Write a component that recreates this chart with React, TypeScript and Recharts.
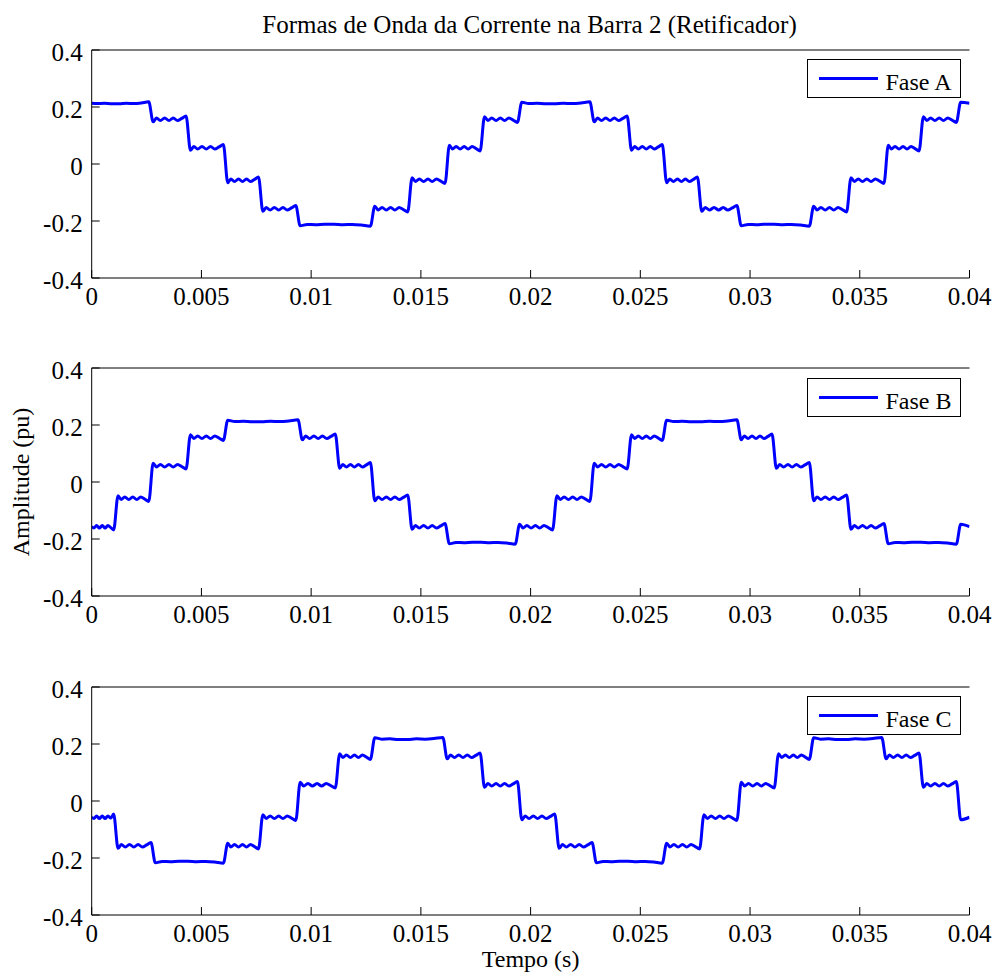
import { LineChart, Line, XAxis, YAxis, Legend } from "recharts";

// eixos
const tempoTicks = [0, 0.005, 0.01, 0.015, 0.02, 0.025, 0.03, 0.035, 0.04];
const amplitudeTicks = [-0.4, -0.2, 0, 0.2, 0.4];

// instantes das comutações (s) e níveis dos patamares (pu)
const faseATrocas = [
  0.0027, 0.0044, 0.0061, 0.0077, 0.0094, 0.0128, 0.0145, 0.0162, 0.0178, 0.0195,
  0.0228, 0.0245, 0.0261, 0.0277, 0.0295, 0.0328, 0.0345, 0.0362, 0.0378, 0.0395,
];
const faseANiveis = [
  0.213, 0.157, 0.057, -0.057, -0.157, -0.213, -0.157, -0.057, 0.057, 0.157, 0.213,
  0.157, 0.057, -0.057, -0.157, -0.213, -0.157, -0.057, 0.057, 0.157, 0.213,
];

const faseBTrocas = [
  0.0011, 0.0027, 0.0044, 0.0061, 0.0095, 0.0112, 0.0128, 0.0145, 0.0162, 0.0194,
  0.0211, 0.0228, 0.0245, 0.0261, 0.0295, 0.0311, 0.0328, 0.0345, 0.0362, 0.0395,
];
const faseBNiveis = [
  -0.157, -0.057, 0.057, 0.157, 0.213, 0.157, 0.057, -0.057, -0.157, -0.213, -0.157,
  -0.057, 0.057, 0.157, 0.213, 0.157, 0.057, -0.057, -0.157, -0.213, -0.157,
];

const faseCTrocas = [
  0.0011, 0.0028, 0.0061, 0.0077, 0.0094, 0.0112, 0.0128, 0.0161, 0.0178, 0.0195,
  0.0212, 0.0229, 0.0261, 0.0278, 0.0295, 0.0312, 0.0328, 0.0361, 0.0378, 0.0395,
];
const faseCNiveis = [
  -0.057, -0.157, -0.213, -0.157, -0.057, 0.057, 0.157, 0.218, 0.157, 0.057, -0.057,
  -0.157, -0.213, -0.157, -0.057, 0.057, 0.157, 0.218, 0.157, 0.057, -0.057,
];

// ripple dentro de um patamar (fração do patamar, desvio em pu)
const rippleFracao = [0, 0.1, 0.22, 0.35, 0.48, 0.61, 0.74, 0.87, 1];
const rippleCurto = [0.009, -0.0045, 0.0045, -0.0045, 0.0045, -0.0045, 0.0045, -0.003, 0.011];
const rippleLongo = [0.004, -0.001, 0, -0.002, -0.002, 0, -0.001, 0.001, 0.005];

const FONTE = '"Liberation Serif", "Times New Roman", serif';
const TRANSICAO = 0.0001;
const T_FIM = 0.04;
const AZUL = "#0000ff";

function montarSerie(trocas: number[], niveis: number[]) {
  const pontos: { t: number; v: number }[] = [];
  const ultimo = rippleFracao.length - 1;
  niveis.forEach((nivel, i) => {
    const t0 = i === 0 ? 0 : trocas[i - 1] + TRANSICAO;
    const t1 = i === niveis.length - 1 ? T_FIM : trocas[i] - TRANSICAO;
    const antes = i === 0 ? 0 : Math.sign(nivel - niveis[i - 1]);
    const depois = i === niveis.length - 1 ? 0 : Math.sign(niveis[i + 1] - nivel);
    const perfil = Math.abs(nivel) > 0.2 ? rippleLongo : rippleCurto;
    const curto = t1 - t0 < 0.0008;
    rippleFracao.forEach((f, k) => {
      if (curto && k !== 0 && k !== ultimo) return;
      let desvio = perfil[k] * (antes || 1);
      if (k === 0) desvio = perfil[0] * antes;
      if (k === ultimo) desvio = -perfil[ultimo] * depois;
      pontos.push({ t: t0 + f * (t1 - t0), v: nivel + desvio });
    });
  });
  return pontos;
}

const fases = [
  { nome: "Fase A", dados: montarSerie(faseATrocas, faseANiveis), topo: 49.5 },
  { nome: "Fase B", dados: montarSerie(faseBTrocas, faseBNiveis), topo: 368.3 },
  { nome: "Fase C", dados: montarSerie(faseCTrocas, faseCNiveis), topo: 686.7 },
];

const TickX = ({ x, y, payload }: any) => (
  <text x={x} y={y} dy={17.3} textAnchor="middle" fontFamily={FONTE} fontSize={25} fill="#000">
    {String(payload.value)}
  </text>
);

const TickY = ({ x, y, payload }: any) => (
  <text x={x} y={y} dy={10.5} textAnchor="end" fontFamily={FONTE} fontSize={25} fill="#000">
    {String(payload.value)}
  </text>
);

function CaixaLegenda({ nome }: { nome: string }) {
  return (
    <svg width={154} height={39} style={{ display: "block" }}>
      <rect x={0.5} y={0.5} width={153} height={38} fill="#fff" stroke="#000" />
      <line x1={12} x2={71} y1={19.5} y2={19.5} stroke={AZUL} strokeWidth={3} />
      <text x={78.5} y={31} fontFamily={FONTE} fontSize={24} fill="#000">
        {nome}
      </text>
    </svg>
  );
}

const titulo = () => (
  <text x={529.5} y={32.5} textAnchor="middle" fontFamily={FONTE} fontSize={25} fill="#000">
    Formas de Onda da Corrente na Barra 2 (Retificador)
  </text>
);

const rotuloY = () => (
  <text
    x={29}
    y={164}
    transform="rotate(-90, 29, 164)"
    textAnchor="middle"
    fontFamily={FONTE}
    fontSize={24}
    fill="#000"
  >
    Amplitude (pu)
  </text>
);

const rotuloX = () => (
  <text x={530.6} y={330.3} textAnchor="middle" fontFamily={FONTE} fontSize={24} fill="#000">
    Tempo (s)
  </text>
);

function Subplot({ nome, dados, topo, indice }: any) {
  return (
    <div style={{ position: "absolute", left: 0, top: topo - 50 }}>
      <LineChart
        width={996}
        height={340}
        data={dados}
        margin={{ top: 49, right: 26.5, bottom: 32, left: 31.7 }}
        style={{ fontFamily: FONTE }}
      >
        <XAxis
          xAxisId="base"
          dataKey="t"
          type="number"
          domain={[0, 0.04]}
          ticks={tempoTicks}
          interval={0}
          allowDataOverflow
          height={30}
          tickSize={-8}
          tickMargin={18}
          axisLine={{ stroke: "#000" }}
          tickLine={{ stroke: "#000" }}
          tick={TickX}
          label={indice === 2 ? { content: rotuloX } : undefined}
        />
        <XAxis
          xAxisId="topo"
          orientation="top"
          type="number"
          domain={[0, 0.04]}
          ticks={tempoTicks}
          interval={0}
          allowDataOverflow
          height={1}
          tick={false}
          tickSize={-8}
          axisLine={{ stroke: "#000" }}
          tickLine={{ stroke: "#000" }}
          label={indice === 0 ? { content: titulo } : undefined}
        />
        <YAxis
          yAxisId="esq"
          type="number"
          domain={[-0.4, 0.4]}
          ticks={amplitudeTicks}
          interval={0}
          allowDataOverflow
          width={60}
          tickSize={-8}
          tickMargin={17}
          axisLine={{ stroke: "#000" }}
          tickLine={{ stroke: "#000" }}
          tick={TickY}
          label={indice === 1 ? { content: rotuloY } : undefined}
        />
        <YAxis
          yAxisId="dir"
          orientation="right"
          type="number"
          domain={[-0.4, 0.4]}
          ticks={amplitudeTicks}
          interval={0}
          allowDataOverflow
          width={0}
          tick={false}
          tickSize={-8}
          axisLine={{ stroke: "#000" }}
          tickLine={{ stroke: "#000" }}
        />
        <Legend
          layout="horizontal"
          verticalAlign="middle"
          align="center"
          wrapperStyle={{ top: 59.8, left: 807.3, width: 154, height: 39 }}
          content={() => <CaixaLegenda nome={nome} />}
        />
        <Line
          xAxisId="base"
          yAxisId="esq"
          type="monotone"
          dataKey="v"
          name={nome}
          stroke={AZUL}
          strokeWidth={3}
          dot={false}
          activeDot={false}
          isAnimationActive={false}
        />
      </LineChart>
    </div>
  );
}

export default function App() {
  return (
    <div
      style={{
        position: "absolute",
        left: 0,
        top: 0,
        width: 996,
        height: 976,
        background: "#fff",
        overflow: "hidden",
        fontFamily: FONTE,
      }}
    >
      {fases.map((f, i) => (
        <Subplot key={f.nome} nome={f.nome} dados={f.dados} topo={f.topo} indice={i} />
      ))}
    </div>
  );
}
